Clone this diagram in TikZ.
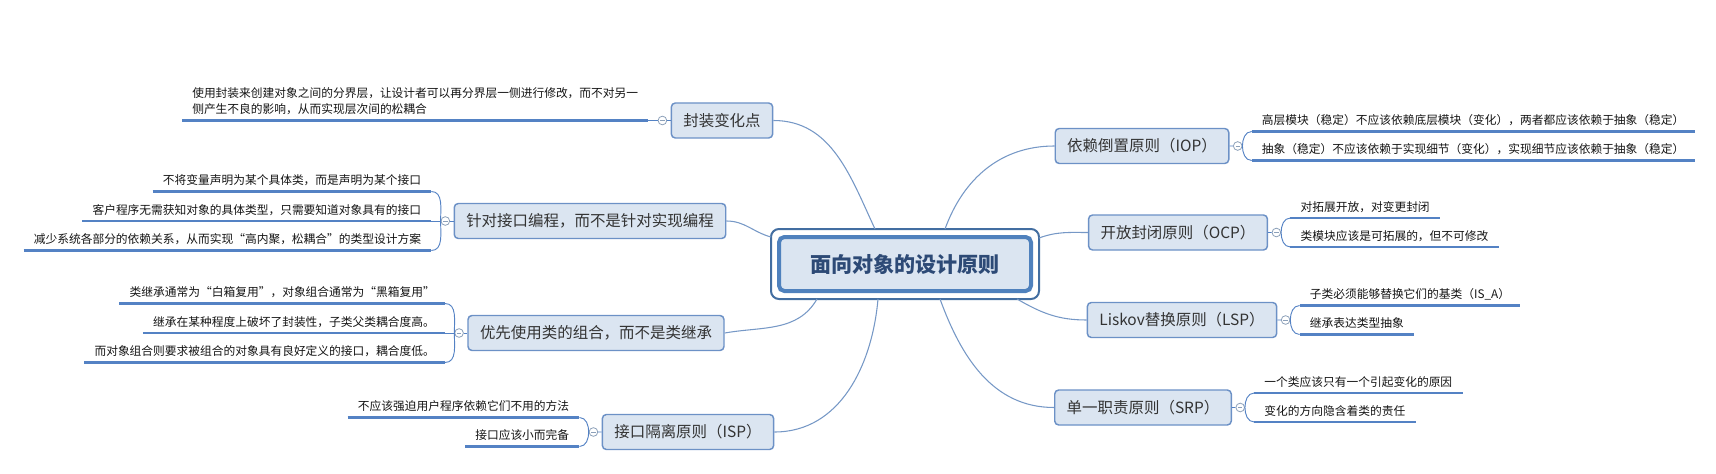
\documentclass[tikz,border=0pt]{standalone}
\usepackage{fontspec}
\setmainfont{Noto Sans CJK SC}
\usepackage{tikz}
\usetikzlibrary{positioning}
\definecolor{boxfill}{RGB}{219,229,241}
\definecolor{boxline}{RGB}{108,145,198}
\definecolor{rootline}{RGB}{79,129,189}
\definecolor{leafline}{RGB}{84,130,196}
\definecolor{linkline}{RGB}{118,152,198}
\definecolor{toggle}{RGB}{140,160,185}
\definecolor{roottext}{RGB}{45,74,118}
\definecolor{leaftext}{RGB}{20,20,20}
\tikzset{
  topic/.style={draw=boxline,line width=1.1pt,fill=boxfill,rounded corners=3pt,inner xsep=9pt,minimum height=26.25pt,font=\fontsize{11.6pt}{14pt}\selectfont,text=black!80},
  leaf/.style={inner xsep=7.5pt,inner ysep=3pt,text height=7pt,text depth=2pt,font=\fontsize{8.8pt}{12pt}\selectfont,text=leaftext,
    append after command={(\tikzlastnode.south west) edge[leafline,line width=1.9pt] (\tikzlastnode.south east)}},
  leafL/.style={leaf,anchor=south east},
  leafR/.style={leaf,anchor=south west},
  tog/.style={circle,draw=toggle,fill=white,line width=0.6pt,minimum size=6.5pt,inner sep=0pt,
    path picture={\draw[toggle,line width=0.6pt] ([xshift=1.6pt]path picture bounding box.west) -- ([xshift=-1.6pt]path picture bounding box.east);}},
  brk/.style={draw=leafline,line width=0.7pt},
  link/.style={draw=linkline,line width=0.8pt}
}
\begin{document}
\begin{tikzpicture}[x=0.75pt,y=-0.75pt]
\useasboundingbox (0,0) rectangle (1716,474);
% centre
\node[draw=rootline,line width=3pt,fill=boxfill,rounded corners=4pt,minimum width=189pt,minimum height=40.5pt,font=\fontsize{15.8pt}{18pt}\selectfont\bfseries,text=roottext] (root) at (905,264) {面向对象的设计原则};
\draw[rootline!85!black,line width=1.5pt,rounded corners=6pt] ([shift={(-6,-6)}]root.north west) rectangle ([shift={(6,6)}]root.south east);

% left side
\node[topic] (encap) at (722,120.5) {封装变化点};
\node[tog,left=2.6pt of encap] (encapT) {};
\node[leafL,align=left,text height={}] (encapA) at ([shift={(-14,0)}]encapT.center) {使用封装来创建对象之间的分界层，让设计者可以再分界层一侧进行修改，而不对另一\\侧产生不良的影响，从而实现层次间的松耦合};
\draw[brk] (encapA.south east) -- (encapT.west) (encapT) -- (encap);

\node[topic] (iface) at (590,221) {针对接口编程，而不是针对实现编程};
\node[tog,left=2.6pt of iface] (ifaceT) {};
\node[leafL] (ifaceA) at ([shift={(-14,-29.5)}]ifaceT.center) {不将变量声明为某个具体类，而是声明为某个接口};
\node[leafL] (ifaceB) at ([shift={(-14,0)}]ifaceT.center) {客户程序无需获知对象的具体类型，只需要知道对象具有的接口};
\node[leafL] (ifaceC) at ([shift={(-14,29.5)}]ifaceT.center) {减少系统各部分的依赖关系，从而实现“高内聚，松耦合”的类型设计方案};
\draw[brk] (ifaceA.south east) to[out=0,in=90] (ifaceT.west) to[out=270,in=0] (ifaceC.south east);
\draw[brk] (ifaceB.south east) -- (ifaceT.west) (ifaceT) -- (iface);

\node[topic] (compose) at (596,333) {优先使用类的组合，而不是类继承};
\node[tog,left=2.6pt of compose] (composeT) {};
\node[leafL] (composeA) at ([shift={(-14,-29.5)}]composeT.center) {类继承通常为“白箱复用”，对象组合通常为“黑箱复用”};
\node[leafL] (composeB) at ([shift={(-14,0)}]composeT.center) {继承在某种程度上破坏了封装性，子类父类耦合度高。};
\node[leafL] (composeC) at ([shift={(-14,29.5)}]composeT.center) {而对象组合则要求被组合的对象具有良好定义的接口，耦合度低。};
\draw[brk] (composeA.south east) to[out=0,in=90] (composeT.west) to[out=270,in=0] (composeC.south east);
\draw[brk] (composeB.south east) -- (composeT.west) (composeT) -- (compose);

\node[topic] (isp) at (688,432) {接口隔离原则（ISP）};
\node[tog,left=2.6pt of isp] (ispT) {};
\node[leafL] (ispA) at ([shift={(-14,-14.5)}]ispT.center) {不应该强迫用户程序依赖它们不用的方法};
\node[leafL] (ispB) at ([shift={(-14,14.5)}]ispT.center) {接口应该小而完备};
\draw[brk] (ispA.south east) to[out=0,in=90] (ispT.west) to[out=270,in=0] (ispB.south east) (ispT) -- (isp);

% right side
\node[topic] (dip) at (1142,146) {依赖倒置原则（IOP）};
\node[tog,right=2.6pt of dip] (dipT) {};
\node[leafR] (dipA) at ([shift={(14,-14.5)}]dipT.center) {高层模块（稳定）不应该依赖底层模块（变化），两者都应该依赖于抽象（稳定）};
\node[leafR] (dipB) at ([shift={(14,14.5)}]dipT.center) {抽象（稳定）不应该依赖于实现细节（变化），实现细节应该依赖于抽象（稳定）};
\draw[brk] (dipA.south west) to[out=180,in=90] (dipT.east) to[out=270,in=180] (dipB.south west) (dipT) -- (dip);

\node[topic] (ocp) at (1178,232.5) {开放封闭原则（OCP）};
\node[tog,right=2.6pt of ocp] (ocpT) {};
\node[leafR] (ocpA) at ([shift={(14,-14.5)}]ocpT.center) {对拓展开放，对变更封闭};
\node[leafR] (ocpB) at ([shift={(14,14.5)}]ocpT.center) {类模块应该是可拓展的，但不可修改};
\draw[brk] (ocpA.south west) to[out=180,in=90] (ocpT.east) to[out=270,in=180] (ocpB.south west) (ocpT) -- (ocp);

\node[topic] (lsp) at (1182,320) {Liskov替换原则（LSP）};
\node[tog,right=2.6pt of lsp] (lspT) {};
\node[leafR] (lspA) at ([shift={(14,-14.5)}]lspT.center) {子类必须能够替换它们的基类（IS\_A）};
\node[leafR] (lspB) at ([shift={(14,14.5)}]lspT.center) {继承表达类型抽象};
\draw[brk] (lspA.south west) to[out=180,in=90] (lspT.east) to[out=270,in=180] (lspB.south west) (lspT) -- (lsp);

\node[topic] (srp) at (1143,407.5) {单一职责原则（SRP）};
\node[tog,right=2.6pt of srp] (srpT) {};
\node[leafR] (srpA) at ([shift={(14,-14.5)}]srpT.center) {一个类应该只有一个引起变化的原因};
\node[leafR] (srpB) at ([shift={(14,14.5)}]srpT.center) {变化的方向隐含着类的责任};
\draw[brk] (srpA.south west) to[out=180,in=90] (srpT.east) to[out=270,in=180] (srpB.south west) (srpT) -- (srp);

% links to the centre
\draw[link] (encap.east) to[out=0,in=115] ([shift={(-30,-6)}]root.north);
\draw[link] (iface.east) to[out=0,in=165] ([shift={(-6,2)}]root.north west);
\draw[link] (compose.east) to[out=10,in=240] ([shift={(-88,6)}]root.south);
\draw[link] (isp.east) to[out=0,in=265] ([shift={(-27,6)}]root.south);
\draw[link] (dip.west) to[out=180,in=70] ([shift={(40,-6)}]root.north);
\draw[link] (ocp.west) to[out=180,in=20] ([shift={(6,3)}]root.north east);
\draw[link] (lsp.west) to[out=180,in=330] ([shift={(112,6)}]root.south);
\draw[link] (srp.west) to[out=180,in=290] ([shift={(35,6)}]root.south);
\end{tikzpicture}
\end{document}
